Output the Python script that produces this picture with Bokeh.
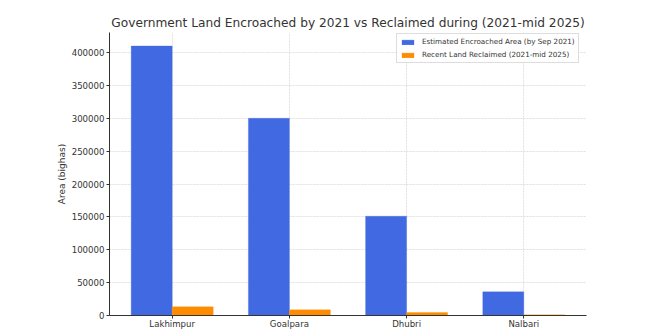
from bokeh.plotting import figure
from bokeh.models import ColumnDataSource, FactorRange, Range1d, Legend, LegendItem, BasicTickFormatter, FixedTicker
from bokeh.transform import dodge
from bokeh.embed import file_html
from bokeh.resources import INLINE

districts = ["Lakhimpur", "Goalpara", "Dhubri", "Nalbari"]
encroached = [410000, 300000, 151000, 36000]
reclaimed = [13200, 8600, 4500, 1000]
y_ticks = [0, 50000, 100000, 150000, 200000, 250000, 300000, 350000, 400000]

src = ColumnDataSource(dict(d=districts, enc=encroached, rec=reclaimed))

FONT = "DejaVu Sans"
p = figure(
    x_range=FactorRange(*districts, range_padding=0.0175),
    y_range=Range1d(0, max(encroached) * 1.05),
    frame_width=477, frame_height=283,
    width=665, height=335,
    min_border_left=109, min_border_right=78, min_border_top=32, min_border_bottom=20,
    output_backend="svg", toolbar_location=None,
    title="Government Land Encroached by 2021 vs Reclaimed during (2021-mid 2025)",
)
p.title.align = "center"
p.title.text_font = FONT
p.title.text_font_size = "12.2px"
p.title.text_font_style = "normal"
p.title.text_color = "#333333"
p.title.standoff = 5

r1 = p.vbar(x=dodge("d", -0.175, range=p.x_range), top="enc", width=0.35, source=src,
            fill_color="#4169E1", line_color="#4169E1", line_alpha=0.3)
r2 = p.vbar(x=dodge("d", 0.175, range=p.x_range), top="rec", width=0.35, source=src,
            fill_color="#FF8C00", line_color="#FF8C00", line_alpha=0.3)

p.outline_line_color = None
p.background_fill_color = "white"
p.border_fill_color = "white"

for g in (p.xgrid, p.ygrid):
    g.grid_line_color = "#d0d0d0"
    g.grid_line_dash = "2 1"
    g.grid_line_alpha = 0.8
    g.grid_line_width = 0.8
    g.level = "underlay"

p.yaxis.ticker = FixedTicker(ticks=y_ticks)
p.yaxis.formatter = BasicTickFormatter(use_scientific=False)
p.yaxis.axis_label = "Area (bighas)"
p.yaxis.axis_label_text_font = FONT
p.yaxis.axis_label_text_font_style = "normal"
p.yaxis.axis_label_text_font_size = "9px"
p.yaxis.axis_label_text_color = "#333333"
p.yaxis.axis_label_standoff = 2

for ax in (p.xaxis, p.yaxis):
    ax.major_label_text_font = FONT
    ax.major_label_text_font_size = "8.6px"
    ax.major_label_text_color = "#333333"
    ax.axis_line_color = "#333333"
    ax.major_tick_line_color = "#333333"
    ax.major_tick_out = 3
    ax.major_tick_in = 0
    ax.minor_tick_line_color = None
    ax.major_label_standoff = 2
p.xaxis.major_label_standoff = 0

legend = Legend(items=[
    LegendItem(label="Estimated Encroached Area (by Sep 2021)", renderers=[r1]),
    LegendItem(label="Recent Land Reclaimed (2021-mid 2025)", renderers=[r2]),
], location=(287, 252))
legend.label_text_font = FONT
legend.label_text_font_size = "7.2px"
legend.label_text_color = "#333333"
legend.glyph_width = 15
legend.glyph_height = 6
legend.label_height = 8
legend.label_standoff = 7
legend.spacing = 4
legend.padding = 3
legend.margin = 0
legend.border_line_color = "#dddddd"
legend.border_line_alpha = 1
legend.background_fill_alpha = 0.9
p.add_layout(legend)

open("out.html", "w").write(file_html(p, INLINE))
